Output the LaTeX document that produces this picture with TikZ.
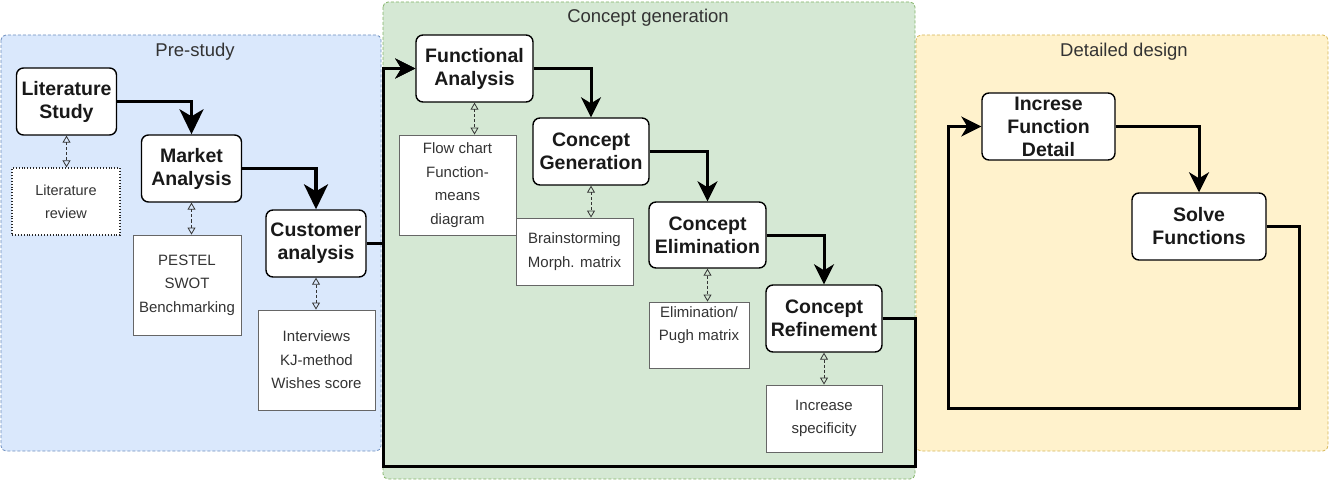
\documentclass[tikz,border=0pt]{standalone}
\usepackage{fontspec}
\setmainfont{Liberation Sans}
\usetikzlibrary{arrows.meta,calc}
\definecolor{psfill}{HTML}{DAE8FC}
\definecolor{psdraw}{HTML}{6C8EBF}
\definecolor{cgfill}{HTML}{D5E8D4}
\definecolor{cgdraw}{HTML}{82B366}
\definecolor{ddfill}{HTML}{FFF2CC}
\definecolor{dddraw}{HTML}{D6B656}
\definecolor{txtgray}{HTML}{333333}
\begin{document}
\begin{tikzpicture}[x=1pt,y=-1pt,
  phase/.style={draw=#1, dash pattern=on 3pt off 2pt, line width=0.8pt, rounded corners=5pt},
  phasetitle/.style={font=\fontsize{18.5}{22}\selectfont, text=txtgray, inner sep=0pt},
  proc/.style={draw=black, fill=white, line width=1.4pt, rounded corners=7pt, align=center,
    font=\fontsize{19.5}{23}\selectfont\bfseries, text=black!90, inner sep=0pt},
  tech/.style={draw=black!60, fill=white, line width=0.9pt, align=center,
    font=\fontsize{15}{23.5}\selectfont, text=txtgray, inner sep=0pt},
  techtext/.style={align=center, font=\fontsize{15}{23.5}\selectfont, text=txtgray, inner sep=0pt},
  flow/.style={line width=3pt, -{Stealth[length=20pt,width=20pt,inset=6pt]}},
  bigflow/.style={line width=3.4pt, -{Stealth[length=25pt,width=24pt,inset=7pt]}},
  flowline/.style={line width=3pt},
  assoc/.style={draw=txtgray, line width=0.8pt, dash pattern=on 3pt off 2pt,
    {Triangle[open,length=7pt,width=8pt]}-{Triangle[open,length=7pt,width=8pt]}},
]
\useasboundingbox (0,0) rectangle (1330,481);

% phase containers
\draw[phase=psdraw, fill=psfill] (1,35) rectangle (381,451);
\draw[phase=dddraw, fill=ddfill] (916,35) rectangle (1328,451);
\draw[phase=cgdraw, fill=cgfill] (383,2) rectangle (915,479);

\node[phasetitle] (tps) at (195,52) {Pre-study};
\node[phasetitle] (tcg) at (648,18) {Concept generation};
\node[phasetitle] (tdd) at (1124,52) {Detailed design};

% pre-study
\node[proc, minimum width=100, minimum height=67] (lit) at (66.5,101.5) {Literature\\Study};
\node[proc, minimum width=100, minimum height=67] (mkt) at (191.5,168.5) {Market\\Analysis};
\node[proc, minimum width=100, minimum height=67] (cust) at (316,243.5) {Customer\\analysis};
\node[tech, draw=black!85, dotted, line width=1.3pt, minimum width=108, minimum height=67,
  font=\fontsize{14.5}{23}\selectfont] (litrev) at (66,201.5) {Literature\\review};
\node[tech, minimum width=108, minimum height=100] (pestel) at (187,285) {PESTEL\\SWOT\\Benchmarking};
\node[tech, minimum width=117, minimum height=100] (intv) at (316.5,360) {Interviews\\KJ-method\\Wishes score};

% concept generation
\node[proc, minimum width=117, minimum height=67] (fa) at (474.5,68.5) {Functional\\Analysis};
\node[tech, minimum width=117, minimum height=100] (flowc) at (457.5,185) {Flow chart\\Function-\\means\\diagram};
\node[proc, minimum width=116, minimum height=67] (cg) at (591,151.5) {Concept\\Generation};
\node[tech, minimum width=117, minimum height=67] (brain) at (574.5,251.5) {Brainstorming\\Morph. matrix};
\node[proc, minimum width=117, minimum height=66] (ce) at (707.5,235) {Concept\\Elimination};
\node[tech, minimum width=100, minimum height=66] (pugh) at (699,335) {};
\node[techtext] (pughtxt) at ($(pugh.center)+(0,-10)$) {Elimination/\\Pugh matrix};
\node[proc, minimum width=116, minimum height=67] (cr) at (824,318.5) {Concept\\Refinement};
\node[tech, minimum width=116, minimum height=67] (spec) at (824,418.5) {Increase\\specificity};

% detailed design
\node[proc, minimum width=133, minimum height=67] (ifd) at (1048.5,126.5) {Increse\\Function\\Detail};
\node[proc, minimum width=134, minimum height=67] (sf) at (1199,226.5) {Solve\\Functions};

% loop corners
\coordinate (lb) at (383,466);
\coordinate (rb) at (915,466);
\coordinate (dl) at (948,408);
\coordinate (dr) at (1299,408);

% main flow
\draw[bigflow] (lit.east) -| (mkt.north);
\draw[bigflow] (mkt.east) -| (cust.north);
\draw[flow] (cust.east) -- (cust.east -| lb) |- (fa.west);
\draw[flow] (cr.east) -| (rb) -- (lb) |- (fa.west);
\draw[flow] (fa.east) -| (cg.north);
\draw[flow] (cg.east) -| (ce.north);
\draw[flow] (ce.east) -| (cr.north);
\draw[flow] (ifd.east) -| (sf.north);
\draw[flow] (sf.east) -| (dr) -- (dl) |- (ifd.west);

% methods attached to each step
\draw[assoc] (lit.south) -- (lit.south |- litrev.north);
\draw[assoc] (mkt.south) -- (mkt.south |- pestel.north);
\draw[assoc] (cust.south) -- (cust.south |- intv.north);
\draw[assoc] (fa.south) -- (fa.south |- flowc.north);
\draw[assoc] (cg.south) -- (cg.south |- brain.north);
\draw[assoc] (ce.south) -- (ce.south |- pugh.north);
\draw[assoc] (cr.south) -- (cr.south |- spec.north);
\end{tikzpicture}
\end{document}
